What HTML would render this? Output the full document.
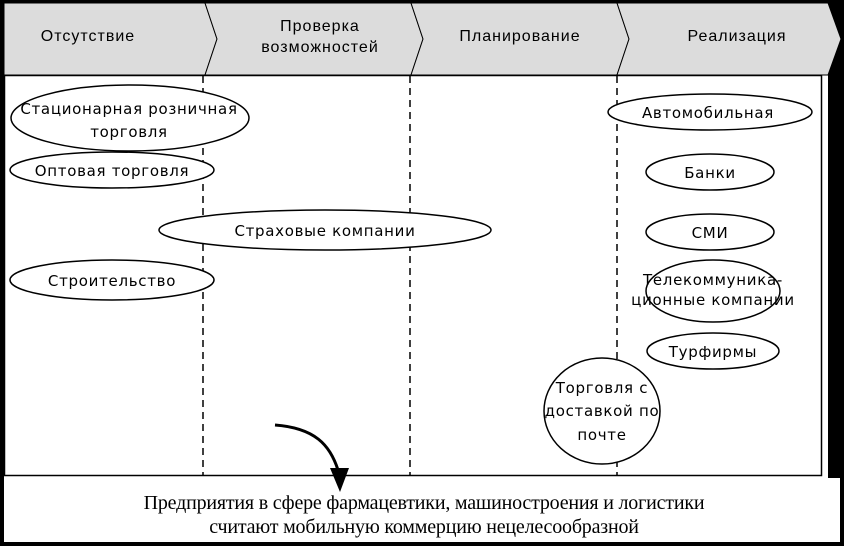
<!DOCTYPE html><html><head><meta charset="utf-8"><style>body{margin:0;background:#000}svg{display:block}</style></head><body>
<svg width="844" height="546" viewBox="0 0 844 546" xmlns="http://www.w3.org/2000/svg" font-family="'DejaVu Sans','Liberation Sans',sans-serif">
<rect x="0" y="0" width="844" height="546" fill="#000"/>
<rect x="4" y="3" width="824" height="539" fill="#fff"/>
<rect x="4" y="478" width="836" height="64" fill="#fff"/>
<g fill="#dcdcdc" stroke="#000" stroke-width="1">
<polygon points="4,3 205,3 217,39 205,75 4,75"/>
<polygon points="205,3 411,3 423,39 411,75 205,75 217,39"/>
<polygon points="411,3 617,3 629,39 617,75 411,75 423,39"/>
<polygon points="617,3 828,3 841,39 828,75 617,75 629,39"/>
</g>
<g font-size="16" text-anchor="middle" fill="#000" font-family="'Liberation Sans',sans-serif" letter-spacing="1">
<text x="88" y="41">Отсутствие</text>
<text x="320" y="31">Проверка</text><text x="320" y="52">возможностей</text>
<text x="520" y="41">Планирование</text>
<text x="737" y="41">Реализация</text>
</g>
<rect x="4.5" y="75.5" width="817" height="400" fill="none" stroke="#000" stroke-width="1.5"/>
<g stroke="#000" stroke-width="1.5" stroke-dasharray="7,5">
<line x1="203" y1="76" x2="203" y2="475"/><line x1="410" y1="76" x2="410" y2="475"/><line x1="617" y1="76" x2="617" y2="475"/>
</g>
<g fill="#fff" stroke="#000" stroke-width="1.5">
<ellipse cx="130" cy="118" rx="119" ry="33"/>
<ellipse cx="112" cy="170" rx="102" ry="18"/>
<ellipse cx="325" cy="230" rx="166" ry="20"/>
<ellipse cx="112" cy="280" rx="102" ry="20"/>
<ellipse cx="710" cy="112" rx="102" ry="18"/>
<ellipse cx="710" cy="172" rx="64" ry="18"/>
<ellipse cx="710" cy="232" rx="64" ry="18"/>
<ellipse cx="713" cy="291" rx="67" ry="31"/>
<ellipse cx="713" cy="351" rx="66" ry="18"/>
<ellipse cx="602" cy="411" rx="58" ry="53"/>
</g>
<g font-size="15" text-anchor="middle" fill="#000" letter-spacing="0.7">
<text x="129" y="114">Стационарная розничная</text><text x="129" y="137">торговля</text>
<text x="112" y="176">Оптовая торговля</text>
<text x="325" y="236">Страховые компании</text>
<text x="112" y="286">Строительство</text>
<text x="708" y="118">Автомобильная</text>
<text x="710" y="178">Банки</text>
<text x="710" y="238">СМИ</text>
<text x="713" y="285">Телекоммуника-</text><text x="713" y="305">ционные компании</text>
<text x="713" y="357">Турфирмы</text>
<text x="602" y="393">Торговля с</text><text x="602" y="416">доставкой по</text><text x="602" y="440">почте</text>
</g>
<path d="M275,425 C315,428 330,445 338,470" fill="none" stroke="#000" stroke-width="3"/>
<polygon points="330,468 349,468 340,492" fill="#000"/>
<g font-family="'Liberation Serif',serif" font-size="20" text-anchor="middle" fill="#000" letter-spacing="-0.2">
<text x="424" y="509">Предприятия в сфере фармацевтики, машиностроения и логистики</text>
<text x="424" y="533">считают мобильную коммерцию нецелесообразной</text>
</g>
</svg>
</body></html>
